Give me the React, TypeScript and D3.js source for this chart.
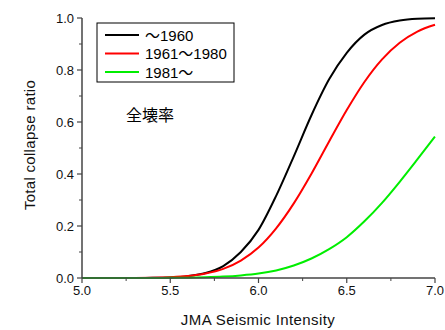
import React from "react";
import * as d3 from "d3";

// JMA intensity sample points
const intensity = [5.0, 5.1, 5.2, 5.3, 5.4, 5.5, 5.6, 5.7, 5.8, 5.9, 6.0, 6.1, 6.2, 6.3, 6.4, 6.5, 6.6, 6.7, 6.8, 6.9, 7.0];

// collapse ratio
const before1960 = [0, 0, 0, 0.0001, 0.0005, 0.002, 0.007, 0.019, 0.046, 0.1, 0.185, 0.316, 0.468, 0.626, 0.764, 0.866, 0.936, 0.973, 0.99, 0.997, 0.999];
const from1961to1980 = [0, 0, 0.0001, 0.0004, 0.001, 0.003, 0.0074, 0.017, 0.035, 0.067, 0.117, 0.191, 0.287, 0.401, 0.525, 0.646, 0.754, 0.841, 0.905, 0.948, 0.974];
const after1981 = [0, 0, 0, 0.0001, 0.0003, 0.0006, 0.0013, 0.0027, 0.0053, 0.0099, 0.017, 0.029, 0.048, 0.075, 0.111, 0.157, 0.218, 0.289, 0.37, 0.456, 0.544];

const seriesNames = ["～1960", "1961～1980", "1981～"];
const seriesColors = ["#000000", "#ff0000", "#00ee00"];
const xTicks = [5.0, 5.5, 6.0, 6.5, 7.0];
const yTicks = [0, 0.2, 0.4, 0.6, 0.8, 1.0];

const W = 445;
const H = 330;
const font = "'Liberation Sans', Arial, 'Noto Sans CJK JP', sans-serif";

export default function App() {
  const x = d3.scaleLinear().domain([5, 7]).range([82, 435]);
  const y = d3.scaleLinear().domain([0, 1]).range([278, 18]);

  const line = d3
    .line<number>()
    .x((_, i) => x(intensity[i]))
    .y((d) => y(d))
    .curve(d3.curveMonotoneX);

  const allSeries = [before1960, from1961to1980, after1981];
  const xMinor = d3.range(5, 7.001, 0.25).filter((v) => Math.abs(v * 2 - Math.round(v * 2)) > 0.01);
  const yMinor = d3.range(0.1, 1, 0.2);
  const axisColor = "#444";

  return (
    <svg width={W} height={H} style={{ position: "absolute", left: 0, top: 0, background: "#fff" }} fontFamily={font}>
      {/* curves */}
      {allSeries.map((s, i) => (
        <path key={i} d={line(s) || ""} fill="none" stroke={seriesColors[i]} strokeWidth={2} />
      ))}

      {/* y axis */}
      <line x1={x(5)} x2={x(5)} y1={y(0)} y2={y(1)} stroke={axisColor} strokeWidth={1.5} />
      {yTicks.map((t) => (
        <g key={t}>
          <line x1={x(5) - 5} x2={x(5)} y1={y(t)} y2={y(t)} stroke={axisColor} strokeWidth={1.2} />
          <text x={x(5) - 8} y={y(t) + 4.7} textAnchor="end" fontSize={13} fill="#111">
            {t.toFixed(1)}
          </text>
        </g>
      ))}
      {yMinor.map((t) => (
        <line key={t} x1={x(5) - 3} x2={x(5)} y1={y(t)} y2={y(t)} stroke={axisColor} strokeWidth={1} />
      ))}

      {/* x axis */}
      <line x1={x(5)} x2={x(7)} y1={y(0)} y2={y(0)} stroke={axisColor} strokeWidth={1.5} />
      {xTicks.map((t) => (
        <g key={t}>
          <line x1={x(t)} x2={x(t)} y1={y(0)} y2={y(0) + 5} stroke={axisColor} strokeWidth={1.2} />
          <text x={x(t)} y={y(0) + 17} textAnchor="middle" fontSize={13} fill="#111">
            {t.toFixed(1)}
          </text>
        </g>
      ))}
      {xMinor.map((t) => (
        <line key={t} x1={x(t)} x2={x(t)} y1={y(0)} y2={y(0) + 3} stroke={axisColor} strokeWidth={1} />
      ))}

      {/* axis titles */}
      <text x={258} y={325} textAnchor="middle" fontSize={15} letterSpacing={0.4} fill="#111">
        JMA Seismic Intensity
      </text>
      <text transform={`translate(35,${y(0.5) - 3}) rotate(-90)`} textAnchor="middle" fontSize={15} letterSpacing={0.3} fill="#111">
        Total collapse ratio
      </text>

      {/* legend */}
      <rect x={97} y={23} width={137} height={59} fill="#fff" stroke="#000" strokeWidth={1} />
      {seriesNames.map((n, i) => (
        <g key={n}>
          <line x1={105} x2={139} y1={35 + i * 18.5} y2={35 + i * 18.5} stroke={seriesColors[i]} strokeWidth={2} />
          <text x={145} y={35 + i * 18.5 + 5.5} fontSize={15} fill="#000">
            {n}
          </text>
        </g>
      ))}

      <text x={126} y={121} fontSize={16} fill="#000" fontFamily="'Noto Sans CJK JP', sans-serif">
        全壊率
      </text>
    </svg>
  );
}
